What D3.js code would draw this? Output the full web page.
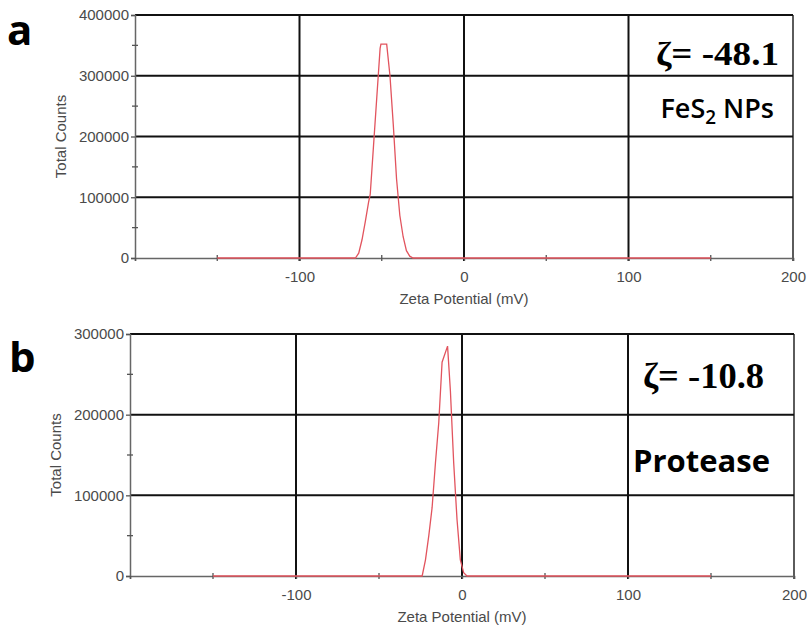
<!DOCTYPE html>
<html>
<head>
<meta charset="utf-8">
<script src="https://cdn.jsdelivr.net/npm/d3@7"></script>
<style>
  body { margin: 0; background: #fff; }
  svg { display: block; }
  text { font-family: 'Liberation Sans', Arial, sans-serif; }
</style>
</head>
<body>
<div id="graph"></div>
<script>
// Data
zetaA = [-150, -66, -64, -62, -60, -58, -57, -55, -53, -51, -50.5, -47, -45, -43, -41, -39, -37, -35, -33, -31, 150]
countsA = [0, 0, 8000, 30000, 60000, 92000, 105000, 185000, 265000, 345000, 352000, 352000, 300000, 220000, 130000, 70000, 35000, 12000, 3000, 0, 0]

zetaB = [-150, -24, -22, -20, -18, -16, -14, -12, -8.7, -7, -5, -3, -1, 1, 3, 150]
countsB = [0, 0, 20000, 50000, 85000, 140000, 190000, 265000, 285000, 230000, 140000, 70000, 20000, 4000, 0, 0]

xTicks = [-200, -100, 0, 100, 200]
xLabels = ['', '-100', '0', '100', '200']
xMinor = [-150, -50, 50, 150]
yTicksA = [0, 100000, 200000, 300000, 400000]
yMinorA = [50000, 150000, 250000, 350000]
yTicksB = [0, 100000, 200000, 300000]
yMinorB = [50000, 150000, 250000]

svg = d3.select('#graph').append('svg')
  .attr('width', 807)
  .attr('height', 625)

function panel(p) {
  let g = svg.append('g')
  let x = d3.scaleLinear().domain([-200, 200]).range([p.left, p.right])
  let y = d3.scaleLinear().domain([0, p.yMax]).range([p.bottom, p.top])

  // grid lines (black, heavy)
  g.selectAll('.vgrid').data([-100, 0, 100, 200]).enter().append('line')
    .attr('x1', d => x(d)).attr('x2', d => x(d))
    .attr('y1', y(0) + 3).attr('y2', y(p.yMax))
    .attr('stroke', d => d == 200 ? '#333' : '#111')
    .attr('stroke-width', d => d == 200 ? 1.6 : 2)
  g.selectAll('.hgrid').data(p.yTicks.filter(d => d > 0)).enter().append('line')
    .attr('x1', x(-200)).attr('x2', x(200))
    .attr('y1', d => y(d)).attr('y2', d => y(d))
    .attr('stroke', '#111')
    .attr('stroke-width', 2)

  // axes
  let yAxis = g.append('g')
    .attr('transform', `translate(${x(-200)}, 0)`)
    .call(d3.axisLeft(y).tickValues(p.yTicks).tickSize(4).tickPadding(2).tickFormat(d3.format('d')))
  let xAxis = g.append('g')
    .attr('transform', `translate(0, ${y(0)})`)
    .call(d3.axisBottom(x).tickValues(xTicks).tickSize(3).tickPadding(10).tickFormat((d, i) => xLabels[i]))
  ;[yAxis, xAxis].forEach(a => {
    a.select('.domain').attr('stroke', '#666').attr('stroke-width', 1.5)
    a.selectAll('.tick line').attr('stroke', '#555').attr('stroke-width', 1.3)
    a.selectAll('text')
      .attr('fill', '#4a4a4a')
      .style('font-size', '15px')
  })

  // minor ticks crossing the axes
  g.selectAll('.ymin').data(p.yMinor).enter().append('line')
    .attr('x1', x(-200) - 3).attr('x2', x(-200) + 3)
    .attr('y1', d => y(d)).attr('y2', d => y(d))
    .attr('stroke', '#555').attr('stroke-width', 1.3)
  g.selectAll('.xmin').data(xMinor).enter().append('line')
    .attr('x1', d => x(d)).attr('x2', d => x(d))
    .attr('y1', y(0) - 3).attr('y2', y(0) + 3)
    .attr('stroke', '#555').attr('stroke-width', 1.3)

  // curve
  let line = d3.line().x(d => x(d[0])).y(d => y(d[1]))
  g.append('path')
    .datum(p.zeta.map((z, i) => [z, p.counts[i]]))
    .attr('fill', 'none')
    .attr('stroke', '#e2545e')
    .attr('stroke-width', 1.3)
    .attr('d', line)

  // axis titles
  g.append('text')
    .attr('x', x(0)).attr('y', y(0) + 46)
    .attr('text-anchor', 'middle')
    .attr('fill', '#4a4a4a')
    .style('font-size', '15px')
    .text('Zeta Potential (mV)')
  g.append('text')
    .attr('transform', `translate(${p.left - 69}, ${(p.top + p.bottom) / 2}) rotate(-90)`)
    .attr('text-anchor', 'middle')
    .attr('fill', '#4a4a4a')
    .style('font-size', '15px')
    .text('Total Counts')

  // panel letter
  g.append('text')
    .attr('x', p.letterX).attr('y', p.letterY)
    .style('font-family', "'Open Sans', 'Noto Sans', sans-serif")
    .style('font-weight', 'bold')
    .style('font-size', '42px')
    .text(p.letter)

  // annotations
  g.append('text')
    .attr('x', p.zetaX).attr('y', p.zetaY)
    .attr('text-anchor', 'end')
    .style('font-family', "'Liberation Serif', 'Times New Roman', serif")
    .style('font-weight', 'bold')
    .style('font-size', p.zetaSize + 'px')
    .attr('textLength', p.zetaW).attr('lengthAdjust', 'spacingAndGlyphs')
    .text(p.zetaText)
  let lab = g.append('text')
    .attr('x', p.labX).attr('y', p.labY)
    .attr('text-anchor', 'end')
    .style('font-family', "'Open Sans', 'Noto Sans', sans-serif")
    .style('font-weight', p.labWeight)
    .style('font-size', p.labSize + 'px')
  p.labParts.forEach(t => {
    let s = lab.append('tspan').text(t.s)
    if (t.sub) s.attr('dy', 6).style('font-size', (p.labSize * 0.7) + 'px')
    if (t.up) s.attr('dy', -6)
  })
}

panel({
  left: 135, right: 793, top: 15, bottom: 258, yMax: 400000,
  yTicks: yTicksA, yMinor: yMinorA, zeta: zetaA, counts: countsA,
  letter: 'a', letterX: 7, letterY: 45,
  zetaText: 'ζ= -48.1', zetaX: 779, zetaY: 65, zetaSize: 33, zetaW: 123,
  labParts: [{s: 'FeS'}, {s: '2', sub: true}, {s: ' NPs', up: true}],
  labX: 774, labY: 118, labSize: 27, labWeight: 600
})

panel({
  left: 130, right: 794, top: 334, bottom: 576, yMax: 300000,
  yTicks: yTicksB, yMinor: yMinorB, zeta: zetaB, counts: countsB,
  letter: 'b', letterX: 9, letterY: 372,
  zetaText: 'ζ= -10.8', zetaX: 764, zetaY: 388, zetaSize: 35, zetaW: 121,
  labParts: [{s: 'Protease'}],
  labX: 770, labY: 472, labSize: 31, labWeight: 700
})
</script>
</body>
</html>
